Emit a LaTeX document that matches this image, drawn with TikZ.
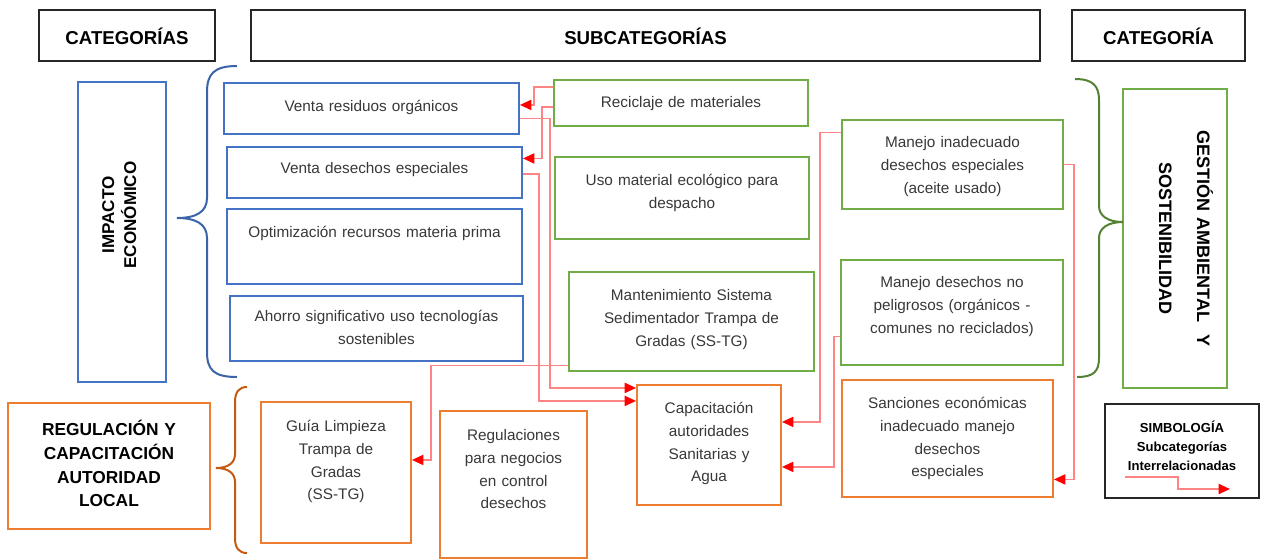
\documentclass[tikz,border=0pt]{standalone}
\usepackage{fontspec}
\setmainfont{Liberation Sans}
\usetikzlibrary{arrows.meta,calc}

\definecolor{boxblue}{HTML}{4472C4}
\definecolor{boxgreen}{HTML}{70AD47}
\definecolor{boxorange}{HTML}{ED7D31}
\definecolor{braceblue}{HTML}{3B63A8}
\definecolor{bracegreen}{HTML}{548235}
\definecolor{braceorange}{HTML}{C55A11}
\definecolor{linkred}{HTML}{FF8585}
\definecolor{textgray}{HTML}{383838}

\begin{document}
\begin{tikzpicture}[x=0.75pt, y=-0.75pt,
    box/.style={anchor=north, inner sep=0pt, align=center, line width=1.4pt},
    dims/.style n args={3}{text width=#1*0.75pt, text height=#2*0.75pt, text depth=#3*0.75pt},
    header/.style={box, draw=black!85, line width=1.8pt, font=\bfseries\fontsize{14}{17}\selectfont},
    subbox/.style={box, text=textgray, font=\fontsize{11.5}{16.9}\selectfont},
    bluebox/.style={subbox, draw=boxblue},
    greenbox/.style={subbox, draw=boxgreen},
    orangebox/.style={subbox, draw=boxorange},
    catbox/.style={box, font=\bfseries\fontsize{13}{17.7}\selectfont},
    brace/.style={line width=1.5pt},
    link/.style={draw=linkred, line width=1.4pt, -{Triangle[length=8.5pt, width=7.5pt, color=red]}}
]
    \useasboundingbox (0,0) rectangle (1264,558);

    % headers
    \node[header, dims={176}{34}{17}] (cat) at (127,9) {CATEGORÍAS};
    \node[header, dims={789}{34}{17}] (subcat) at (645.5,9) {SUBCATEGORÍAS};
    \node[header, dims={173}{34}{17}] (catamb) at (1158.5,9) {CATEGORÍA};

    % categories
    \node[catbox, draw=boxblue, rotate=90, anchor=center, font=\bfseries\fontsize{12.8}{16.5}\selectfont,
        dims={300}{36}{52}] (impacto) at (122,232)
        {\hspace*{25.5pt}IMPACTO\\\hspace*{25.5pt}ECONÓMICO};
    \node[catbox, draw=boxgreen, rotate=-90, anchor=center, font=\bfseries\fontsize{13.5}{28.5}\selectfont,
        dims={299}{30}{74}] (gestion) at (1175,238.5)
        {GESTIÓN AMBIENTAL\ \ Y\\SOSTENIBILIDAD};
    \node[catbox, draw=boxorange, dims={202}{33}{93}] (regul) at (109,402)
        {REGULACIÓN Y\\CAPACITACIÓN\\AUTORIDAD\\LOCAL};

    % subcategories
    \node[bluebox, dims={295}{29}{22}] (vres) at (371.5,82) {Venta residuos orgánicos};
    \node[bluebox, dims={295}{27}{24}] (vdes) at (374.5,146) {Venta desechos especiales};
    \node[bluebox, dims={295}{29}{46}] (optim) at (374.5,208) {Optimización recursos materia prima};
    \node[bluebox, dims={293}{26}{39}] (ahorro) at (376.5,295) {Ahorro significativo uso tecnologías\\sostenibles};

    \node[greenbox, dims={254}{28}{18}] (recic) at (681,79) {Reciclaje de materiales};
    \node[greenbox, dims={254}{29}{53}] (uso) at (682,156) {Uso material ecológico para\\despacho};
    \node[greenbox, dims={245}{29}{70}] (mant) at (691.5,271) {Mantenimiento Sistema\\Sedimentador Trampa de\\Gradas (SS-TG)};
    \node[greenbox, dims={221}{28}{61}] (manin) at (952.5,119) {Manejo inadecuado\\desechos especiales\\(aceite usado)};
    \node[greenbox, dims={222}{28}{77}] (manno) at (952,259) {Manejo desechos no\\peligrosos (orgánicos -\\comunes no reciclados)};

    \node[orangebox, dims={150}{30}{111}] (guia) at (336,401) {Guía Limpieza\\Trampa de\\Gradas\\(SS-TG)};
    \node[orangebox, dims={147}{30}{117}] (regneg) at (513.5,410) {Regulaciones\\para negocios\\en control\\desechos};
    \node[orangebox, dims={144}{29}{91}] (capac) at (709,384) {Capacitación\\autoridades\\Sanitarias y\\Agua};
    \node[orangebox, dims={211}{29}{88}] (sanc) at (947.5,379) {Sanciones económicas\\inadecuado manejo\\desechos\\especiales};

    % braces
    \draw[brace, braceblue] (237,66) .. controls (214,66) and (207,74) .. (207,92) -- (207,198)
        .. controls (207,212) and (196,218) .. (177,218) .. controls (196,218) and (207,224) .. (207,238)
        -- (207,352) .. controls (207,370) and (214,377) .. (237,377);
    \draw[brace, bracegreen] (1075,79) .. controls (1093,79) and (1099,86) .. (1099,100) -- (1099,206)
        .. controls (1099,216) and (1108,222) .. (1123,222) .. controls (1108,222) and (1099,228) .. (1099,238)
        -- (1099,358) .. controls (1099,372) and (1093,377) .. (1077,377);
    \draw[brace, braceorange] (247,387) .. controls (239,387) and (235,392) .. (235,402) -- (235,454)
        .. controls (235,463) and (228,468) .. (216,468) .. controls (228,468) and (235,473) .. (235,482)
        -- (235,538) .. controls (235,548) and (239,553) .. (247,553);

    % links
    \draw[link] ($(recic.west)+(0,-16)$) -- ++(-19,0) |- ($(vres.east)+(0,-3.5)$);
    \draw[link] ($(recic.west)+(0,4)$) -- ++(-11,0) |- ($(vdes.east)+(0,-14)$);
    \draw[link] ($(vres.east)+(0,10)$) -- ++(30,0) |- ($(capac.west)+(0,-57)$);
    \draw[link] ($(vdes.east)+(0,1.5)$) -- ++(16,0) |- ($(capac.west)+(0,-44)$);
    \draw[link] ($(mant.west)+(0,44)$) -- ++(-137,0) |- ($(guia.east)+(0,-12.5)$);
    \draw[link] ($(manin.west)+(0,-32)$) -- ++(-21,0) |- ($(capac.east)+(0,-23)$);
    \draw[link] ($(manno.west)+(0,24)$) -- ++(-6,0) |- ($(capac.east)+(0,22)$);
    \draw[link] (manin.east) -- ++(10,0) |- ($(sanc.east)+(0,41)$);

    % legend
    \node[box, draw=black!85, line width=1.8pt, font=\bfseries\fontsize{9.8}{14.25}\selectfont,
        dims={154}{28}{66}] (simb) at (1182,403) {SIMBOLOGÍA\\Subcategorías\\Interrelacionadas};
    \coordinate (legA) at (1125,477);
    \coordinate (legB) at (1230,489);
    \draw[link] (legA) -- ++(53,0) |- (legB);
\end{tikzpicture}
\end{document}
